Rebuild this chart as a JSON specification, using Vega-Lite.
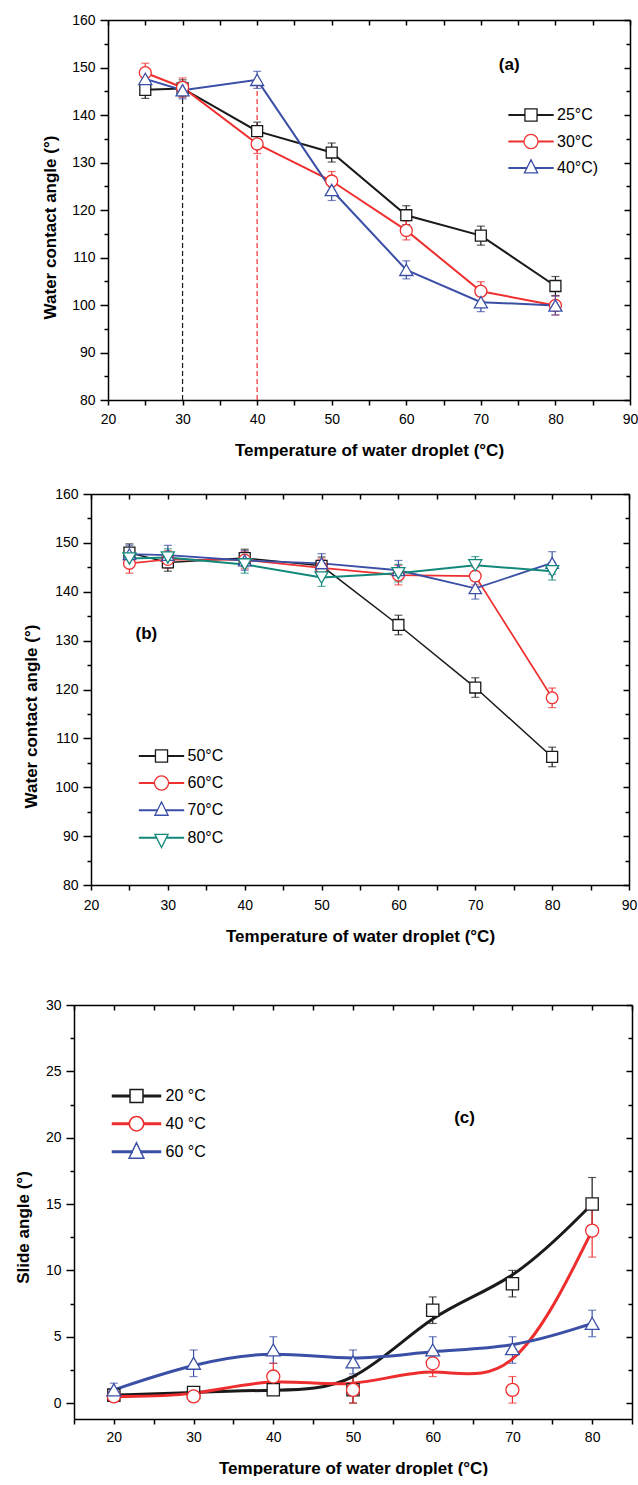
{
  "$schema": "https://vega.github.io/schema/vega-lite/v6.json",
  "padding": {"left": 0, "top": 13, "right": 0, "bottom": 0},
  "config": {
    "view": {"stroke": null},
    "font": "Liberation Sans",
    "axis": {"labelFont": "Liberation Sans", "labelFontSize": 14, "labelColor": "black", "titleFont": "Liberation Sans", "titleFontSize": 17, "titleFontWeight": "bold", "titleColor": "black", "domainColor": "black", "domainWidth": 1.5, "tickColor": "black", "tickWidth": 1.5, "grid": false, "labelFlush": false, "labelOverlap": false},
    "legend": {"labelFont": "Liberation Sans", "labelColor": "black", "labelFontSize": 16, "title": null, "orient": "none", "direction": "vertical", "symbolOpacity": 1, "padding": 0}
  },
  "datasets": {
    "a": [
      {"s": "25°C", "x": 25, "y": 145.3, "lo": 143.5, "hi": 147.1},
      {"s": "25°C", "x": 30, "y": 145.6, "lo": 143.8, "hi": 147.4},
      {"s": "25°C", "x": 40, "y": 136.6, "lo": 134.7, "hi": 138.5},
      {"s": "25°C", "x": 50, "y": 132.1, "lo": 130.1, "hi": 134.1},
      {"s": "25°C", "x": 60, "y": 118.9, "lo": 116.9, "hi": 120.9},
      {"s": "25°C", "x": 70, "y": 114.6, "lo": 112.6, "hi": 116.6},
      {"s": "25°C", "x": 80, "y": 104.0, "lo": 102.0, "hi": 106.0},
      {"s": "30°C", "x": 25, "y": 148.9, "lo": 146.9, "hi": 150.9},
      {"s": "30°C", "x": 30, "y": 145.8, "lo": 143.8, "hi": 147.8},
      {"s": "30°C", "x": 40, "y": 133.9, "lo": 131.9, "hi": 135.9},
      {"s": "30°C", "x": 50, "y": 126.1, "lo": 124.1, "hi": 128.1},
      {"s": "30°C", "x": 60, "y": 115.7, "lo": 113.7, "hi": 117.7},
      {"s": "30°C", "x": 70, "y": 102.9, "lo": 100.9, "hi": 104.9},
      {"s": "30°C", "x": 80, "y": 99.9, "lo": 97.9, "hi": 101.9},
      {"s": "40°C)", "x": 25, "y": 147.6, "lo": 145.8, "hi": 149.4},
      {"s": "40°C)", "x": 30, "y": 145.2, "lo": 143.4, "hi": 147.0},
      {"s": "40°C)", "x": 40, "y": 147.4, "lo": 145.6, "hi": 149.2},
      {"s": "40°C)", "x": 50, "y": 124.2, "lo": 122.0, "hi": 126.4},
      {"s": "40°C)", "x": 60, "y": 107.4, "lo": 105.5, "hi": 109.3},
      {"s": "40°C)", "x": 70, "y": 100.6, "lo": 98.6, "hi": 102.6},
      {"s": "40°C)", "x": 80, "y": 99.9, "lo": 97.9, "hi": 101.9}
    ],
    "b": [
      {"s": "50°C", "x": 25, "y": 148.0, "lo": 146.2, "hi": 149.8},
      {"s": "50°C", "x": 30, "y": 146.0, "lo": 144.2, "hi": 147.8},
      {"s": "50°C", "x": 40, "y": 146.9, "lo": 145.1, "hi": 148.7},
      {"s": "50°C", "x": 50, "y": 145.3, "lo": 143.5, "hi": 147.1},
      {"s": "50°C", "x": 60, "y": 133.2, "lo": 131.2, "hi": 135.2},
      {"s": "50°C", "x": 70, "y": 120.4, "lo": 118.4, "hi": 122.4},
      {"s": "50°C", "x": 80, "y": 106.2, "lo": 104.2, "hi": 108.2},
      {"s": "60°C", "x": 25, "y": 145.8, "lo": 143.8, "hi": 147.8},
      {"s": "60°C", "x": 30, "y": 146.6, "lo": 144.8, "hi": 148.4},
      {"s": "60°C", "x": 40, "y": 146.5, "lo": 144.7, "hi": 148.3},
      {"s": "60°C", "x": 50, "y": 144.9, "lo": 143.1, "hi": 146.7},
      {"s": "60°C", "x": 60, "y": 143.4, "lo": 141.4, "hi": 145.4},
      {"s": "60°C", "x": 70, "y": 143.2, "lo": 141.4, "hi": 145.0},
      {"s": "60°C", "x": 80, "y": 118.3, "lo": 116.3, "hi": 120.3},
      {"s": "70°C", "x": 25, "y": 147.7, "lo": 145.9, "hi": 149.5},
      {"s": "70°C", "x": 30, "y": 147.5, "lo": 145.5, "hi": 149.5},
      {"s": "70°C", "x": 40, "y": 146.4, "lo": 144.4, "hi": 148.4},
      {"s": "70°C", "x": 50, "y": 145.8, "lo": 143.8, "hi": 147.8},
      {"s": "70°C", "x": 60, "y": 144.4, "lo": 142.4, "hi": 146.4},
      {"s": "70°C", "x": 70, "y": 140.7, "lo": 138.5, "hi": 142.9},
      {"s": "70°C", "x": 80, "y": 145.9, "lo": 143.6, "hi": 148.2},
      {"s": "80°C", "x": 25, "y": 146.8, "lo": 145.0, "hi": 148.6},
      {"s": "80°C", "x": 30, "y": 147.0, "lo": 145.2, "hi": 148.8},
      {"s": "80°C", "x": 40, "y": 145.6, "lo": 143.8, "hi": 147.4},
      {"s": "80°C", "x": 50, "y": 142.9, "lo": 141.1, "hi": 144.7},
      {"s": "80°C", "x": 60, "y": 143.8, "lo": 142.0, "hi": 145.6},
      {"s": "80°C", "x": 70, "y": 145.4, "lo": 143.6, "hi": 147.2},
      {"s": "80°C", "x": 80, "y": 144.2, "lo": 142.4, "hi": 146.0}
    ],
    "c": [
      {"s": "20 °C", "x": 20, "y": 0.6, "lo": 0.3, "hi": 0.9},
      {"s": "20 °C", "x": 30, "y": 0.8, "lo": 0.5, "hi": 1.1},
      {"s": "20 °C", "x": 40, "y": 1.0, "lo": 0.7, "hi": 1.3},
      {"s": "20 °C", "x": 50, "y": 1.0, "lo": 0.0, "hi": 2.0},
      {"s": "20 °C", "x": 60, "y": 7.0, "lo": 6.0, "hi": 8.0},
      {"s": "20 °C", "x": 70, "y": 9.0, "lo": 8.0, "hi": 10.0},
      {"s": "20 °C", "x": 80, "y": 15.0, "lo": 13.0, "hi": 17.0},
      {"s": "40 °C", "x": 20, "y": 0.5, "lo": 0.2, "hi": 0.8},
      {"s": "40 °C", "x": 30, "y": 0.5, "lo": 0.1, "hi": 0.9},
      {"s": "40 °C", "x": 40, "y": 2.0, "lo": 1.0, "hi": 3.0},
      {"s": "40 °C", "x": 50, "y": 1.0, "lo": 0.0, "hi": 2.0},
      {"s": "40 °C", "x": 60, "y": 3.0, "lo": 2.0, "hi": 4.0},
      {"s": "40 °C", "x": 70, "y": 1.0, "lo": 0.0, "hi": 2.0},
      {"s": "40 °C", "x": 80, "y": 13.0, "lo": 11.0, "hi": 15.0},
      {"s": "60 °C", "x": 20, "y": 1.0, "lo": 0.5, "hi": 1.5},
      {"s": "60 °C", "x": 30, "y": 3.0, "lo": 2.0, "hi": 4.0},
      {"s": "60 °C", "x": 40, "y": 4.0, "lo": 3.0, "hi": 5.0},
      {"s": "60 °C", "x": 50, "y": 3.1, "lo": 2.2, "hi": 4.0},
      {"s": "60 °C", "x": 60, "y": 4.0, "lo": 3.0, "hi": 5.0},
      {"s": "60 °C", "x": 70, "y": 4.1, "lo": 3.0, "hi": 5.0},
      {"s": "60 °C", "x": 80, "y": 6.0, "lo": 5.0, "hi": 7.0}
    ]
  },
  "spacing": 54,
  "resolve": {"scale": {"color": "independent", "shape": "independent", "size": "independent", "strokeWidth": "independent"}, "legend": {"color": "independent", "shape": "independent"}},
  "vconcat": [
    {
      "spacing": 29,
      "resolve": {"scale": {"color": "independent", "shape": "independent", "size": "independent", "strokeWidth": "independent"}, "legend": {"color": "independent", "shape": "independent"}},
      "vconcat": [
        {
          "spacing": 0,
          "resolve": {"scale": {"color": "independent", "shape": "independent", "size": "independent", "strokeWidth": "independent"}, "legend": {"color": "independent", "shape": "independent"}},
          "hconcat": [
            {"width": 41, "height": 10, "data": {"values": [{}]}, "mark": {"type": "point", "opacity": 0}},
            {
              "width": 522, "height": 380,
              "resolve": {"axis": {"x": "independent", "y": "independent"}, "scale": {"shape": "independent"}, "legend": {"shape": "independent"}},
              "layer": [
                {
                  "data": {"values": [{"s": "25°C", "x": 30, "y": 80, "y2": 145.4}, {"s": "30°C", "x": 40, "y": 80, "y2": 147.2}]},
                  "mark": {"type": "rule", "strokeDash": [5, 3], "strokeWidth": 1.2},
                  "encoding": {
                    "x": {"field": "x", "type": "quantitative", "scale": {"domain": [20, 90], "nice": false, "zero": false}, "axis": null},
                    "y": {"field": "y", "type": "quantitative", "scale": {"domain": [80, 160], "nice": false, "zero": false}, "axis": null},
                    "y2": {"field": "y2"},
                    "color": {"field": "s", "type": "nominal", "scale": {"domain": ["25°C", "30°C", "40°C)"], "range": ["#1a1a1a", "#ee3030", "#3a4fa5"]}, "legend": null}
                  }
                },
                {
                  "data": {"name": "a"},
                  "mark": {"type": "rule", "strokeWidth": 1.2},
                  "encoding": {
                    "x": {"field": "x", "type": "quantitative", "scale": {"domain": [20, 90], "nice": false, "zero": false}, "axis": null},
                    "y": {"field": "lo", "type": "quantitative", "scale": {"domain": [80, 160], "nice": false, "zero": false}, "axis": null},
                    "y2": {"field": "hi"},
                    "color": {"field": "s", "type": "nominal", "scale": {"domain": ["25°C", "30°C", "40°C)"], "range": ["#1a1a1a", "#ee3030", "#3a4fa5"]}, "legend": null}
                  }
                },
                {
                  "data": {"name": "a"},
                  "mark": {"type": "tick", "orient": "horizontal", "size": 8, "thickness": 1.2},
                  "encoding": {
                    "x": {"field": "x", "type": "quantitative", "scale": {"domain": [20, 90], "nice": false, "zero": false}, "axis": null},
                    "y": {"field": "lo", "type": "quantitative", "scale": {"domain": [80, 160], "nice": false, "zero": false}, "axis": null},
                    "color": {"field": "s", "type": "nominal", "scale": {"domain": ["25°C", "30°C", "40°C)"], "range": ["#1a1a1a", "#ee3030", "#3a4fa5"]}, "legend": null}
                  }
                },
                {
                  "data": {"name": "a"},
                  "mark": {"type": "tick", "orient": "horizontal", "size": 8, "thickness": 1.2},
                  "encoding": {
                    "x": {"field": "x", "type": "quantitative", "scale": {"domain": [20, 90], "nice": false, "zero": false}, "axis": null},
                    "y": {"field": "hi", "type": "quantitative", "scale": {"domain": [80, 160], "nice": false, "zero": false}, "axis": null},
                    "color": {"field": "s", "type": "nominal", "scale": {"domain": ["25°C", "30°C", "40°C)"], "range": ["#1a1a1a", "#ee3030", "#3a4fa5"]}, "legend": null}
                  }
                },
                {
                  "data": {"name": "a"},
                  "mark": {"type": "line", "strokeWidth": 2},
                  "encoding": {
                    "x": {"field": "x", "type": "quantitative", "scale": {"domain": [20, 90], "nice": false, "zero": false},
                      "axis": {"orient": "bottom", "values": [20, 25, 30, 35, 40, 45, 50, 55, 60, 65, 70, 75, 80, 85, 90], "labelExpr": "datum.value % 10 === 0 ? datum.label : ''", "tickSize": 5, "labelPadding": 7, "title": "Temperature of water droplet (°C)", "titlePadding": 16}},
                    "y": {"field": "y", "type": "quantitative", "scale": {"domain": [80, 160], "nice": false, "zero": false},
                      "axis": {"orient": "left", "values": [80, 85, 90, 95, 100, 105, 110, 115, 120, 125, 130, 135, 140, 145, 150, 155, 160], "labelExpr": "datum.value % 10 === 0 ? datum.label : ''", "tickSize": {"condition": {"test": "datum.value % 10 === 0", "value": 8}, "value": 4}, "labelPadding": 5, "title": "Water contact angle (°)", "titlePadding": 12, "titleY": 207}},
                    "color": {"field": "s", "type": "nominal", "scale": {"domain": ["25°C", "30°C", "40°C)"], "range": ["#1a1a1a", "#ee3030", "#3a4fa5"]}, "legend": null}
                  }
                },
                {
                  "data": {"name": "a"},
                  "mark": {"type": "point", "filled": false, "fill": "white", "fillOpacity": 1, "opacity": 1, "strokeWidth": 1.3},
                  "encoding": {
                    "x": {"field": "x", "type": "quantitative", "scale": {"domain": [20, 90], "nice": false, "zero": false}, "axis": null},
                    "y": {"field": "y", "type": "quantitative", "scale": {"domain": [80, 160], "nice": false, "zero": false}, "axis": null},
                    "color": {"field": "s", "type": "nominal", "scale": {"domain": ["25°C", "30°C", "40°C)"], "range": ["#1a1a1a", "#ee3030", "#3a4fa5"]}, "legend": null},
                    "shape": {"field": "s", "type": "nominal", "scale": {"domain": ["25°C", "30°C", "40°C)"], "range": ["square", "circle", "triangle-up"]}, "legend": null},
                    "size": {"field": "s", "type": "nominal", "scale": {"domain": ["25°C", "30°C", "40°C)"], "range": [120, 170, 200]}, "legend": null}
                  }
                },
                {
                  "data": {"values": [{"x": 73.8, "y": 150.5, "t": "(a)"}]},
                  "mark": {"type": "text", "fontSize": 17, "fontWeight": "bold", "font": "Liberation Sans", "color": "black"},
                  "encoding": {
                    "x": {"field": "x", "type": "quantitative", "scale": {"domain": [20, 90], "nice": false, "zero": false}, "axis": null},
                    "y": {"field": "y", "type": "quantitative", "scale": {"domain": [80, 160], "nice": false, "zero": false}, "axis": null},
                    "text": {"field": "t"}
                  }
                },
                {
                  "data": {"name": "a"},
                  "mark": {"type": "point", "opacity": 0},
                  "encoding": {
                    "x": {"field": "x", "type": "quantitative", "scale": {"domain": [20, 90], "nice": false, "zero": false},
                      "axis": {"orient": "top", "values": [20, 25, 30, 35, 40, 45, 50, 55, 60, 65, 70, 75, 80, 85, 90], "labels": false, "tickSize": -5, "title": null}},
                    "y": {"field": "y", "type": "quantitative", "scale": {"domain": [80, 160], "nice": false, "zero": false},
                      "axis": {"orient": "right", "values": [80, 85, 90, 95, 100, 105, 110, 115, 120, 125, 130, 135, 140, 145, 150, 155, 160], "labels": false, "tickSize": {"condition": {"test": "datum.value % 10 === 0", "value": -6}, "value": -4}, "title": null}}
                  }
                },
                {
                  "data": {"name": "a"},
                  "transform": [{"filter": "false"}],
                  "mark": {"type": "point", "filled": false, "strokeWidth": 1.3, "color": "#1a1a1a"},
                  "encoding": {
                    "shape": {"field": "s", "type": "nominal", "scale": {"domain": ["25°C"], "range": ["M-2,-0.032H-0.55V0.032H-2Z M0.55,-0.032H2V0.032H0.55Z M-0.55,-0.55H0.55V0.55H-0.55Z"]},
                      "legend": {"legendX": 411, "legendY": 83, "symbolSize": 484, "symbolStrokeWidth": 1.3, "labelOffset": 14}}
                  }
                },
                {
                  "data": {"name": "a"},
                  "transform": [{"filter": "false"}],
                  "mark": {"type": "point", "filled": false, "strokeWidth": 1.3, "color": "#ee3030"},
                  "encoding": {
                    "shape": {"field": "s", "type": "nominal", "scale": {"domain": ["30°C"], "range": ["M-2,-0.032H-0.64V0.032H-2Z M0.64,-0.032H2V0.032H0.64Z M-0.64,0A0.64,0.64,0,1,0,0.64,0A0.64,0.64,0,1,0,-0.64,0Z"]},
                      "legend": {"legendX": 411, "legendY": 109.5, "symbolSize": 484, "symbolStrokeWidth": 1.3, "labelOffset": 14}}
                  }
                },
                {
                  "data": {"name": "a"},
                  "transform": [{"filter": "false"}],
                  "mark": {"type": "point", "filled": false, "strokeWidth": 1.3, "color": "#3a4fa5"},
                  "encoding": {
                    "shape": {"field": "s", "type": "nominal", "scale": {"domain": ["40°C)"], "range": ["M-2,-0.032H-0.375V0.032H-2Z M0.375,-0.032H2V0.032H0.375Z M0,-0.75L0.6,0.45H-0.6Z"]},
                      "legend": {"legendX": 411, "legendY": 136, "symbolSize": 484, "symbolStrokeWidth": 1.3, "labelOffset": 14}}
                  }
                }
              ]
            }
          ]
        },
        {
          "spacing": 0,
          "resolve": {"scale": {"color": "independent", "shape": "independent", "size": "independent", "strokeWidth": "independent"}, "legend": {"color": "independent", "shape": "independent"}},
          "hconcat": [
            {"width": 22, "height": 10, "data": {"values": [{}]}, "mark": {"type": "point", "opacity": 0}},
            {
              "width": 538, "height": 391,
              "resolve": {"axis": {"x": "independent", "y": "independent"}, "scale": {"shape": "independent"}, "legend": {"shape": "independent"}},
              "layer": [
                {
                  "data": {"name": "b"},
                  "mark": {"type": "rule", "strokeWidth": 1.2},
                  "encoding": {
                    "x": {"field": "x", "type": "quantitative", "scale": {"domain": [20, 90], "nice": false, "zero": false}, "axis": null},
                    "y": {"field": "lo", "type": "quantitative", "scale": {"domain": [80, 160], "nice": false, "zero": false}, "axis": null},
                    "y2": {"field": "hi"},
                    "color": {"field": "s", "type": "nominal", "scale": {"domain": ["50°C", "60°C", "70°C", "80°C"], "range": ["#1a1a1a", "#ee3030", "#3a4fa5", "#12887b"]}, "legend": null}
                  }
                },
                {
                  "data": {"name": "b"},
                  "mark": {"type": "tick", "orient": "horizontal", "size": 8, "thickness": 1.2},
                  "encoding": {
                    "x": {"field": "x", "type": "quantitative", "scale": {"domain": [20, 90], "nice": false, "zero": false}, "axis": null},
                    "y": {"field": "lo", "type": "quantitative", "scale": {"domain": [80, 160], "nice": false, "zero": false}, "axis": null},
                    "color": {"field": "s", "type": "nominal", "scale": {"domain": ["50°C", "60°C", "70°C", "80°C"], "range": ["#1a1a1a", "#ee3030", "#3a4fa5", "#12887b"]}, "legend": null}
                  }
                },
                {
                  "data": {"name": "b"},
                  "mark": {"type": "tick", "orient": "horizontal", "size": 8, "thickness": 1.2},
                  "encoding": {
                    "x": {"field": "x", "type": "quantitative", "scale": {"domain": [20, 90], "nice": false, "zero": false}, "axis": null},
                    "y": {"field": "hi", "type": "quantitative", "scale": {"domain": [80, 160], "nice": false, "zero": false}, "axis": null},
                    "color": {"field": "s", "type": "nominal", "scale": {"domain": ["50°C", "60°C", "70°C", "80°C"], "range": ["#1a1a1a", "#ee3030", "#3a4fa5", "#12887b"]}, "legend": null}
                  }
                },
                {
                  "data": {"name": "b"},
                  "mark": {"type": "line"},
                  "encoding": {
                    "x": {"field": "x", "type": "quantitative", "scale": {"domain": [20, 90], "nice": false, "zero": false},
                      "axis": {"orient": "bottom", "values": [20, 25, 30, 35, 40, 45, 50, 55, 60, 65, 70, 75, 80, 85, 90], "labelExpr": "datum.value % 10 === 0 ? datum.label : ''", "tickSize": 5, "labelPadding": 8, "title": "Temperature of water droplet (°C)", "titlePadding": 16}},
                    "y": {"field": "y", "type": "quantitative", "scale": {"domain": [80, 160], "nice": false, "zero": false},
                      "axis": {"orient": "left", "values": [80, 85, 90, 95, 100, 105, 110, 115, 120, 125, 130, 135, 140, 145, 150, 155, 160], "labelExpr": "datum.value % 10 === 0 ? datum.label : ''", "tickSize": {"condition": {"test": "datum.value % 10 === 0", "value": 8}, "value": 4}, "labelPadding": 5, "title": "Water contact angle (°)", "titlePadding": 14, "titleY": 222}},
                    "color": {"field": "s", "type": "nominal", "scale": {"domain": ["50°C", "60°C", "70°C", "80°C"], "range": ["#1a1a1a", "#ee3030", "#3a4fa5", "#12887b"]}, "legend": null},
                    "strokeWidth": {"field": "s", "type": "nominal", "scale": {"domain": ["50°C", "60°C", "70°C", "80°C"], "range": [1.5, 2, 2, 2]}, "legend": null}
                  }
                },
                {
                  "data": {"name": "b"},
                  "mark": {"type": "point", "filled": false, "fill": "white", "fillOpacity": 1, "opacity": 1, "strokeWidth": 1.3},
                  "encoding": {
                    "x": {"field": "x", "type": "quantitative", "scale": {"domain": [20, 90], "nice": false, "zero": false}, "axis": null},
                    "y": {"field": "y", "type": "quantitative", "scale": {"domain": [80, 160], "nice": false, "zero": false}, "axis": null},
                    "color": {"field": "s", "type": "nominal", "scale": {"domain": ["50°C", "60°C", "70°C", "80°C"], "range": ["#1a1a1a", "#ee3030", "#3a4fa5", "#12887b"]}, "legend": null},
                    "shape": {"field": "s", "type": "nominal", "scale": {"domain": ["50°C", "60°C", "70°C", "80°C"], "range": ["square", "circle", "triangle-up", "triangle-down"]}, "legend": null},
                    "size": {"field": "s", "type": "nominal", "scale": {"domain": ["50°C", "60°C", "70°C", "80°C"], "range": [120, 170, 200, 200]}, "legend": null}
                  }
                },
                {
                  "data": {"values": [{"x": 27.2, "y": 131.3, "t": "(b)"}]},
                  "mark": {"type": "text", "fontSize": 17, "fontWeight": "bold", "font": "Liberation Sans", "color": "black"},
                  "encoding": {
                    "x": {"field": "x", "type": "quantitative", "scale": {"domain": [20, 90], "nice": false, "zero": false}, "axis": null},
                    "y": {"field": "y", "type": "quantitative", "scale": {"domain": [80, 160], "nice": false, "zero": false}, "axis": null},
                    "text": {"field": "t"}
                  }
                },
                {
                  "data": {"name": "b"},
                  "mark": {"type": "point", "opacity": 0},
                  "encoding": {
                    "x": {"field": "x", "type": "quantitative", "scale": {"domain": [20, 90], "nice": false, "zero": false},
                      "axis": {"orient": "top", "values": [20, 25, 30, 35, 40, 45, 50, 55, 60, 65, 70, 75, 80, 85, 90], "labels": false, "tickSize": -5, "title": null}},
                    "y": {"field": "y", "type": "quantitative", "scale": {"domain": [80, 160], "nice": false, "zero": false},
                      "axis": {"orient": "right", "values": [80, 85, 90, 95, 100, 105, 110, 115, 120, 125, 130, 135, 140, 145, 150, 155, 160], "labels": false, "tickSize": {"condition": {"test": "datum.value % 10 === 0", "value": -6}, "value": -4}, "title": null}}
                  }
                },
                {
                  "data": {"name": "b"},
                  "transform": [{"filter": "false"}],
                  "mark": {"type": "point", "filled": false, "strokeWidth": 1.3, "color": "#1a1a1a"},
                  "encoding": {
                    "shape": {"field": "s", "type": "nominal", "scale": {"domain": ["50°C"], "range": ["M-2,-0.032H-0.55V0.032H-2Z M0.55,-0.032H2V0.032H0.55Z M-0.55,-0.55H0.55V0.55H-0.55Z"]},
                      "legend": {"legendX": 58.5, "legendY": 250, "symbolSize": 484, "symbolStrokeWidth": 1.3, "labelOffset": 14}}
                  }
                },
                {
                  "data": {"name": "b"},
                  "transform": [{"filter": "false"}],
                  "mark": {"type": "point", "filled": false, "strokeWidth": 1.3, "color": "#ee3030"},
                  "encoding": {
                    "shape": {"field": "s", "type": "nominal", "scale": {"domain": ["60°C"], "range": ["M-2,-0.032H-0.64V0.032H-2Z M0.64,-0.032H2V0.032H0.64Z M-0.64,0A0.64,0.64,0,1,0,0.64,0A0.64,0.64,0,1,0,-0.64,0Z"]},
                      "legend": {"legendX": 58.5, "legendY": 277, "symbolSize": 484, "symbolStrokeWidth": 1.3, "labelOffset": 14}}
                  }
                },
                {
                  "data": {"name": "b"},
                  "transform": [{"filter": "false"}],
                  "mark": {"type": "point", "filled": false, "strokeWidth": 1.3, "color": "#3a4fa5"},
                  "encoding": {
                    "shape": {"field": "s", "type": "nominal", "scale": {"domain": ["70°C"], "range": ["M-2,-0.032H-0.375V0.032H-2Z M0.375,-0.032H2V0.032H0.375Z M0,-0.75L0.6,0.45H-0.6Z"]},
                      "legend": {"legendX": 58.5, "legendY": 304.3, "symbolSize": 484, "symbolStrokeWidth": 1.3, "labelOffset": 14}}
                  }
                },
                {
                  "data": {"name": "b"},
                  "transform": [{"filter": "false"}],
                  "mark": {"type": "point", "filled": false, "strokeWidth": 1.3, "color": "#12887b"},
                  "encoding": {
                    "shape": {"field": "s", "type": "nominal", "scale": {"domain": ["80°C"], "range": ["M-2,-0.032H-0.45V0.032H-2Z M0.45,-0.032H2V0.032H0.45Z M-0.6,-0.3H0.6L0,0.9Z"]},
                      "legend": {"legendX": 58.5, "legendY": 331.7, "symbolSize": 484, "symbolStrokeWidth": 1.3, "labelOffset": 14}}
                  }
                }
              ]
            }
          ]
        }
      ]
    },
    {
      "spacing": 0,
      "resolve": {"scale": {"color": "independent", "shape": "independent", "size": "independent", "strokeWidth": "independent"}, "legend": {"color": "independent", "shape": "independent"}},
      "hconcat": [
        {"width": 14, "height": 10, "data": {"values": [{}]}, "mark": {"type": "point", "opacity": 0}},
        {
          "width": 558, "height": 414,
          "resolve": {"axis": {"x": "independent", "y": "independent"}, "scale": {"shape": "independent"}, "legend": {"shape": "independent"}},
          "layer": [
            {
              "data": {"name": "c"},
              "mark": {"type": "rule", "strokeWidth": 1.2},
              "encoding": {
                "x": {"field": "x", "type": "quantitative", "scale": {"domain": [15, 85], "nice": false, "zero": false}, "axis": null},
                "y": {"field": "lo", "type": "quantitative", "scale": {"domain": [-1.2, 30], "nice": false, "zero": false}, "axis": null},
                "y2": {"field": "hi"},
                "color": {"field": "s", "type": "nominal", "scale": {"domain": ["20 °C", "40 °C", "60 °C"], "range": ["#1a1a1a", "#ee2e2e", "#3a4fa5"]}, "legend": null}
              }
            },
            {
              "data": {"name": "c"},
              "mark": {"type": "tick", "orient": "horizontal", "size": 8, "thickness": 1.2},
              "encoding": {
                "x": {"field": "x", "type": "quantitative", "scale": {"domain": [15, 85], "nice": false, "zero": false}, "axis": null},
                "y": {"field": "lo", "type": "quantitative", "scale": {"domain": [-1.2, 30], "nice": false, "zero": false}, "axis": null},
                "color": {"field": "s", "type": "nominal", "scale": {"domain": ["20 °C", "40 °C", "60 °C"], "range": ["#1a1a1a", "#ee2e2e", "#3a4fa5"]}, "legend": null}
              }
            },
            {
              "data": {"name": "c"},
              "mark": {"type": "tick", "orient": "horizontal", "size": 8, "thickness": 1.2},
              "encoding": {
                "x": {"field": "x", "type": "quantitative", "scale": {"domain": [15, 85], "nice": false, "zero": false}, "axis": null},
                "y": {"field": "hi", "type": "quantitative", "scale": {"domain": [-1.2, 30], "nice": false, "zero": false}, "axis": null},
                "color": {"field": "s", "type": "nominal", "scale": {"domain": ["20 °C", "40 °C", "60 °C"], "range": ["#1a1a1a", "#ee2e2e", "#3a4fa5"]}, "legend": null}
              }
            },
            {
              "data": {"name": "c"},
              "mark": {"type": "line", "strokeWidth": 3, "interpolate": "basis"},
              "encoding": {
                "x": {"field": "x", "type": "quantitative", "scale": {"domain": [15, 85], "nice": false, "zero": false},
                  "axis": {"orient": "bottom", "values": [15, 20, 25, 30, 35, 40, 45, 50, 55, 60, 65, 70, 75, 80, 85], "labelExpr": "datum.value % 10 === 0 ? datum.label : ''", "tickSize": 5, "labelPadding": 6, "title": "Temperature of water droplet (°C)", "titlePadding": 16}},
                "y": {"field": "y", "type": "quantitative", "scale": {"domain": [-1.2, 30], "nice": false, "zero": false},
                  "axis": {"orient": "left", "values": [0, 2.5, 5, 7.5, 10, 12.5, 15, 17.5, 20, 22.5, 25, 27.5, 30], "labelExpr": "datum.value % 5 === 0 ? datum.label : ''", "tickSize": {"condition": {"test": "datum.value % 5 === 0", "value": 8}, "value": 4}, "labelPadding": 5, "title": "Slide angle (°)", "titlePadding": 13, "titleY": 222}},
                "color": {"field": "s", "type": "nominal", "scale": {"domain": ["20 °C", "40 °C", "60 °C"], "range": ["#1a1a1a", "#ee2e2e", "#3a4fa5"]}, "legend": null}
              }
            },
            {
              "data": {"name": "c"},
              "mark": {"type": "point", "filled": false, "fill": "white", "fillOpacity": 1, "opacity": 1, "strokeWidth": 1.3},
              "encoding": {
                "x": {"field": "x", "type": "quantitative", "scale": {"domain": [15, 85], "nice": false, "zero": false}, "axis": null},
                "y": {"field": "y", "type": "quantitative", "scale": {"domain": [-1.2, 30], "nice": false, "zero": false}, "axis": null},
                "color": {"field": "s", "type": "nominal", "scale": {"domain": ["20 °C", "40 °C", "60 °C"], "range": ["#1a1a1a", "#ee2e2e", "#3a4fa5"]}, "legend": null},
                "shape": {"field": "s", "type": "nominal", "scale": {"domain": ["20 °C", "40 °C", "60 °C"], "range": ["square", "circle", "triangle-up"]}, "legend": null},
                "size": {"field": "s", "type": "nominal", "scale": {"domain": ["20 °C", "40 °C", "60 °C"], "range": [150, 190, 230]}, "legend": null}
              }
            },
            {
              "data": {"values": [{"x": 64.0, "y": 21.5, "t": "(c)"}]},
              "mark": {"type": "text", "fontSize": 17, "fontWeight": "bold", "font": "Liberation Sans", "color": "black"},
              "encoding": {
                "x": {"field": "x", "type": "quantitative", "scale": {"domain": [15, 85], "nice": false, "zero": false}, "axis": null},
                "y": {"field": "y", "type": "quantitative", "scale": {"domain": [-1.2, 30], "nice": false, "zero": false}, "axis": null},
                "text": {"field": "t"}
              }
            },
            {
              "data": {"name": "c"},
              "mark": {"type": "point", "opacity": 0},
              "encoding": {
                "x": {"field": "x", "type": "quantitative", "scale": {"domain": [15, 85], "nice": false, "zero": false},
                  "axis": {"orient": "top", "values": [15, 20, 25, 30, 35, 40, 45, 50, 55, 60, 65, 70, 75, 80, 85], "labels": false, "tickSize": -5, "title": null}},
                "y": {"field": "y", "type": "quantitative", "scale": {"domain": [-1.2, 30], "nice": false, "zero": false},
                  "axis": {"orient": "right", "values": [0, 2.5, 5, 7.5, 10, 12.5, 15, 17.5, 20, 22.5, 25, 27.5, 30], "labels": false, "tickSize": {"condition": {"test": "datum.value % 5 === 0", "value": -6}, "value": -4}, "title": null}}
              }
            },
            {
              "data": {"name": "c"},
              "transform": [{"filter": "false"}],
              "mark": {"type": "point", "filled": false, "strokeWidth": 1.5, "color": "#1a1a1a"},
              "encoding": {
                "shape": {"field": "s", "type": "nominal", "scale": {"domain": ["20 °C"], "range": ["M-2,-0.0625H-0.54V0.0625H-2Z M0.54,-0.0625H2V0.0625H0.54Z M-0.54,-0.54H0.54V0.54H-0.54Z"]},
                  "legend": {"legendX": 49.5, "legendY": 78, "symbolSize": 576, "symbolStrokeWidth": 1.5, "labelOffset": 16}}
              }
            },
            {
              "data": {"name": "c"},
              "transform": [{"filter": "false"}],
              "mark": {"type": "point", "filled": false, "strokeWidth": 1.5, "color": "#ee2e2e"},
              "encoding": {
                "shape": {"field": "s", "type": "nominal", "scale": {"domain": ["40 °C"], "range": ["M-2,-0.0625H-0.6V0.0625H-2Z M0.6,-0.0625H2V0.0625H0.6Z M-0.6,0A0.6,0.6,0,1,0,0.6,0A0.6,0.6,0,1,0,-0.6,0Z"]},
                  "legend": {"legendX": 49.5, "legendY": 105.7, "symbolSize": 576, "symbolStrokeWidth": 1.5, "labelOffset": 16}}
              }
            },
            {
              "data": {"name": "c"},
              "transform": [{"filter": "false"}],
              "mark": {"type": "point", "filled": false, "strokeWidth": 1.5, "color": "#3a4fa5"},
              "encoding": {
                "shape": {"field": "s", "type": "nominal", "scale": {"domain": ["60 °C"], "range": ["M-2,-0.0625H-0.36V0.0625H-2Z M0.36,-0.0625H2V0.0625H0.36Z M0,-0.75L0.62,0.55H-0.62Z"]},
                  "legend": {"legendX": 49.5, "legendY": 133.7, "symbolSize": 576, "symbolStrokeWidth": 1.5, "labelOffset": 16}}
              }
            }
          ]
        }
      ]
    }
  ]
}
